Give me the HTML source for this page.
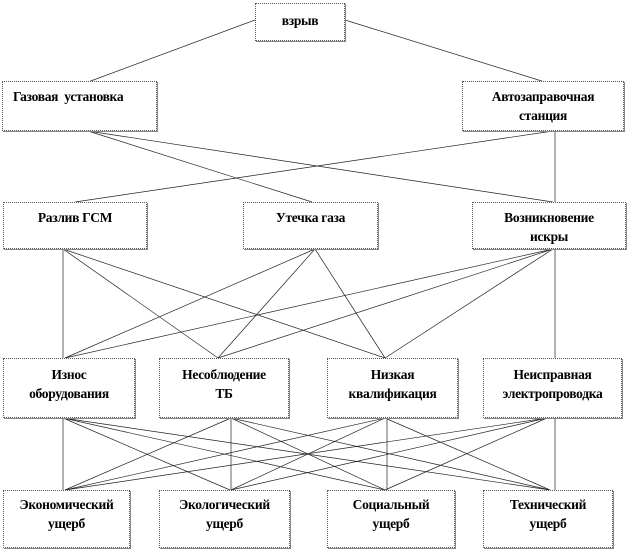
<!DOCTYPE html>
<html><head><meta charset="utf-8"><style>
body{margin:0;background:#fff;width:628px;height:551px;position:relative;overflow:hidden}
.b{position:absolute;box-sizing:border-box;border:1px dotted #555;box-shadow:1px 1px 0 #888;background:#fff;
font:bold 13.5px "Liberation Serif","Noto Serif CJK SC",serif;color:#000;text-align:center;line-height:19px;padding-top:5px;letter-spacing:-0.3px}
svg{position:absolute;left:0;top:0}
</style></head><body>
<svg width="628" height="551"><g stroke="#222" stroke-width="0.7" fill="none">
<line x1="255" y1="20" x2="88" y2="82"/><line x1="345" y1="20" x2="545" y2="82"/>
<line x1="88" y1="131" x2="312" y2="202"/><line x1="88" y1="131" x2="553" y2="202"/>
<line x1="553" y1="131" x2="75" y2="202"/><line x1="555" y1="131" x2="555" y2="202"/>
<line x1="63" y1="249" x2="63" y2="358"/><line x1="63" y1="249" x2="218" y2="358"/><line x1="63" y1="249" x2="385" y2="358"/>
<line x1="315" y1="249" x2="218" y2="358"/><line x1="315" y1="249" x2="385" y2="358"/><line x1="315" y1="249" x2="65" y2="358"/>
<line x1="553" y1="249" x2="65" y2="358"/><line x1="553" y1="249" x2="218" y2="358"/><line x1="553" y1="249" x2="385" y2="358"/><line x1="555" y1="249" x2="555" y2="358"/>
<line x1="63" y1="418" x2="63" y2="490"/><line x1="63" y1="418" x2="230" y2="490"/><line x1="63" y1="418" x2="385" y2="490"/><line x1="63" y1="418" x2="550" y2="490"/>
<line x1="231" y1="418" x2="65" y2="490"/><line x1="231" y1="418" x2="231" y2="490"/><line x1="231" y1="418" x2="385" y2="490"/><line x1="231" y1="418" x2="550" y2="490"/>
<line x1="385" y1="418" x2="65" y2="490"/><line x1="385" y1="418" x2="231" y2="490"/><line x1="387" y1="418" x2="387" y2="490"/><line x1="385" y1="418" x2="550" y2="490"/>
<line x1="547" y1="418" x2="65" y2="490"/><line x1="547" y1="418" x2="231" y2="490"/><line x1="547" y1="418" x2="385" y2="490"/><line x1="555" y1="418" x2="555" y2="490"/>
</g></svg>
<div class="b" style="left:255px;top:3px;width:90px;height:38px;padding-top:7px">взрыв</div>
<div class="b" style="left:2px;top:81px;width:155px;height:50px;text-align:left;padding-left:10px">Газовая&nbsp; установка</div>
<div class="b" style="left:462px;top:81px;width:162px;height:50px">Автозаправочная<br>станция</div>
<div class="b" style="left:3px;top:202px;width:144px;height:47px">Разлив ГСМ</div>
<div class="b" style="left:243px;top:202px;width:135px;height:47px">Утечка газа</div>
<div class="b" style="left:472px;top:202px;width:154px;height:47px">Возникновение<br>искры</div>
<div class="b" style="left:3px;top:358px;width:132px;height:60px;padding-top:6px">Износ<br>оборудования</div>
<div class="b" style="left:159px;top:358px;width:130px;height:60px;padding-top:6px">Несоблюдение<br>ТБ</div>
<div class="b" style="left:327px;top:358px;width:131px;height:60px;padding-top:6px">Низкая<br>квалификация</div>
<div class="b" style="left:483px;top:358px;width:139px;height:60px;padding-top:6px">Неисправная<br>электропроводка</div>
<div class="b" style="left:3px;top:490px;width:127px;height:58px;padding-top:4px">Экономический<br>ущерб</div>
<div class="b" style="left:159px;top:490px;width:131px;height:58px;padding-top:4px">Экологический<br>ущерб</div>
<div class="b" style="left:327px;top:490px;width:128px;height:58px;padding-top:4px">Социальный<br>ущерб</div>
<div class="b" style="left:483px;top:490px;width:130px;height:58px;padding-top:4px">Технический<br>ущерб</div>
</body></html>
